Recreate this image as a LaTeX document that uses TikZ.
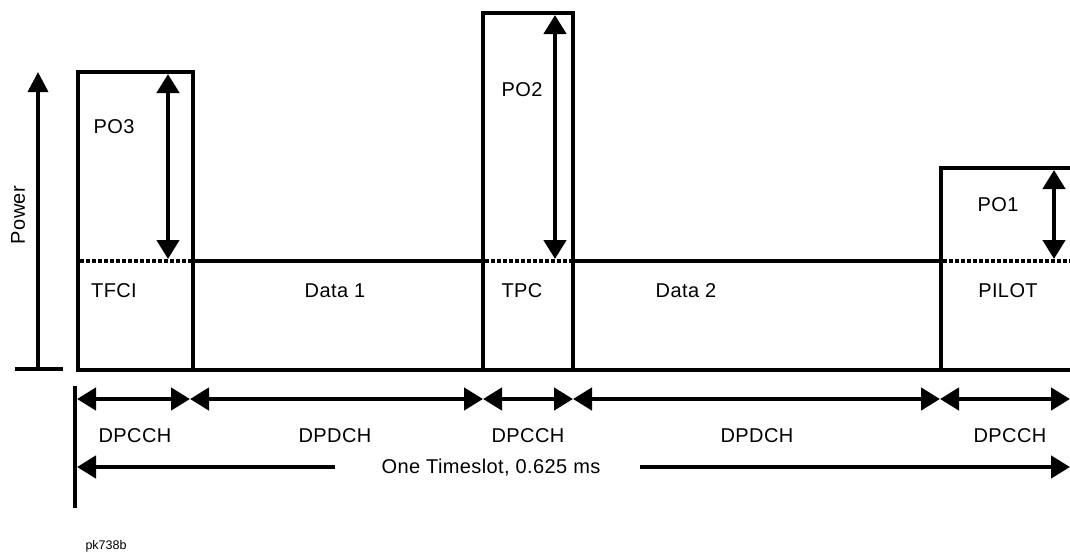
\documentclass[tikz,border=0pt]{standalone}
\usepackage{fontspec}
\setmainfont{Liberation Sans}
\usetikzlibrary{arrows.meta}
\begin{document}
\begin{tikzpicture}[x=1pt,y=-1pt,
  thickline/.style={line width=4.5pt},
  dotline/.style={line width=4pt,dash pattern=on 3.5pt off 2.5pt},
  tri/.style={line width=4.5pt,{Triangle[length=19pt,width=22pt]}-{Triangle[length=19pt,width=22pt]}},
  lbl/.style={font=\fontsize{20}{22}\selectfont\addfontfeature{LetterSpace=2}},
  small/.style={font=\fontsize{12.5}{14}\selectfont}]
\useasboundingbox (0,0) rectangle (1070,558);
% coordinates
\coordinate (b0) at (78,370);
\coordinate (b1) at (193,370);
\coordinate (b2) at (483,370);
\coordinate (b3) at (573,370);
\coordinate (b4) at (941,370);
\coordinate (b5) at (1072,370);
% power axis
\coordinate (pa0) at (38,370);
\coordinate (pa1) at (38,72);
\draw[line width=3.5pt,-{Triangle[length=20pt,width=20pt]}] (pa0) -- (pa1);
\coordinate (tk0) at (15,369);
\coordinate (tk1) at (63,369);
\draw[line width=3.5pt] (tk0) -- (tk1);
\node[lbl,rotate=90] (power) at (18,215) {Power};
% boxes
\draw[thickline] (b0) -- (78,72) -- (193,72) -- (b1);
\draw[thickline] (193,261) -- (483,261);
\draw[thickline] (b2) -- (483,13) -- (573,13) -- (b3);
\draw[thickline] (573,261) -- (941,261);
\draw[thickline] (b4) -- (941,168) -- (1072,168);
\draw[thickline] (76,370) -- (b5);
% dotted levels
\draw[dotline] (80,261) -- (191,261);
\draw[dotline] (485,261) -- (571,261);
\draw[dotline] (943,261) -- (1070,261);
% PO arrows
\coordinate (p3a) at (168,74); \coordinate (p3b) at (168,259);
\draw[tri] (p3a) -- (p3b);
\coordinate (p2a) at (555,15); \coordinate (p2b) at (555,259);
\draw[tri] (p2a) -- (p2b);
\coordinate (p1a) at (1054,170); \coordinate (p1b) at (1054,259);
\draw[tri] (p1a) -- (p1b);
% labels
\node[lbl] (po3) at (114,127) {PO3};
\node[lbl] (po2) at (522,90) {PO2};
\node[lbl] (po1) at (998,205) {PO1};
\node[lbl] (tfci) at (114,291) {TFCI};
\node[lbl] (d1) at (335,291) {Data 1};
\node[lbl] (tpc) at (522,291) {TPC};
\node[lbl] (d2) at (686,291) {Data 2};
\node[lbl] (pilot) at (1008,291) {PILOT};
% time axis
\coordinate (v0) at (75,386);
\coordinate (v1) at (75,508);
\draw[line width=3.5pt] (v0) -- (v1);
\coordinate (t0) at (77,399);
\coordinate (t1) at (190,399);
\coordinate (t2) at (483,399);
\coordinate (t3) at (573,399);
\coordinate (t4) at (940,399);
\coordinate (t5) at (1070,399);
\draw[tri] (t0) -- (t1);
\draw[tri] (t1) -- (t2);
\draw[tri] (t2) -- (t3);
\draw[tri] (t3) -- (t4);
\draw[tri] (t4) -- (t5);
\node[lbl] (c1) at (135,436) {DPCCH};
\node[lbl] (dd1) at (335,436) {DPDCH};
\node[lbl] (c2) at (528,436) {DPCCH};
\node[lbl] (dd2) at (757,436) {DPDCH};
\node[lbl] (c3) at (1010,436) {DPCCH};
\node[lbl] (ts) at (491,468) {One Timeslot, 0.625 ms};
\coordinate (s0) at (77,467);
\coordinate (s1) at (335,467);
\coordinate (s2) at (640,467);
\coordinate (s3) at (1070,467);
\draw[line width=4.5pt,{Triangle[length=19pt,width=22pt]}-] (s0) -- (s1);
\draw[line width=4.5pt,-{Triangle[length=19pt,width=22pt]}] (s2) -- (s3);
\node[small,anchor=west] (pk) at (82,546) {pk738b};
\end{tikzpicture}
\end{document}
